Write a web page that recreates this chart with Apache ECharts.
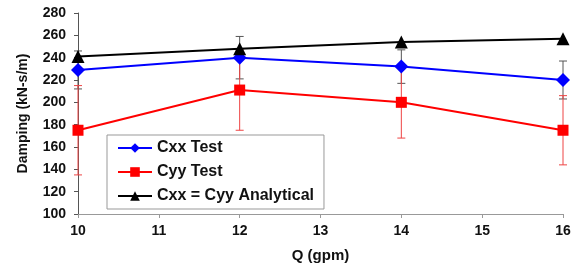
<!DOCTYPE html>
<html>
<head>
<meta charset="utf-8">
<script src="https://cdn.jsdelivr.net/npm/echarts@6/dist/echarts.min.js"></script>
<style>
  html, body { margin: 0; padding: 0; background: #fff; }
  #chart { width: 577px; height: 268px; }
</style>
</head>
<body>
<div id="chart"></div>
<script>
// flow rate, gpm
var flow = [10, 12, 14, 16];
// damping values, kN-s/m
var cxxTest = [229, 240, 232, 220];
var cyyTest = [175, 211, 200, 175];
var analytical = [241, 248, 254, 257];
// +/- error for test series
var cxxErr = [17, 19, 15, 17];
var cyyErr = [40, 36, 32, 31];
var yTicks = [100, 120, 140, 160, 180, 200, 220, 240, 260, 280];

var font = 'Liberation Sans, Arial, sans-serif';

function pairs(ys) {
  return flow.map(function (x, i) { return [x, ys[i]]; });
}
function errRows(ys, es) {
  return flow.map(function (x, i) { return [x, ys[i] - es[i], ys[i] + es[i]]; });
}
function errorBars(color) {
  return function (params, api) {
    var top = api.coord([api.value(0), api.value(2)]);
    var bot = api.coord([api.value(0), api.value(1)]);
    var w = 4;
    var st = { stroke: color, lineWidth: 1 };
    return {
      type: 'group',
      children: [
        { type: 'line', shape: { x1: top[0], y1: top[1], x2: bot[0], y2: bot[1] }, style: st },
        { type: 'line', shape: { x1: top[0] - w, y1: top[1], x2: top[0] + w, y2: top[1] }, style: st },
        { type: 'line', shape: { x1: bot[0] - w, y1: bot[1], x2: bot[0] + w, y2: bot[1] }, style: st }
      ]
    };
  };
}

var chart = echarts.init(document.getElementById('chart'));
chart.setOption({
  animation: false,
  textStyle: { fontFamily: font },
  grid: { left: 78, right: 14, top: 13, bottom: 54 },
  legend: {
    orient: 'vertical',
    left: 107,
    top: 135,
    itemWidth: 34,
    itemHeight: 12,
    itemGap: 8,
    padding: [5, 10, 5, 10],
    borderColor: '#999',
    borderWidth: 1,
    textStyle: { fontFamily: font, fontWeight: 'bold', fontSize: 16, color: '#111' },
    data: ['Cxx Test', 'Cyy Test', 'Cxx = Cyy Analytical']
  },
  xAxis: {
    type: 'value',
    min: 10,
    max: 16,
    interval: 1,
    name: 'Q (gpm)',
    nameLocation: 'middle',
    nameGap: 34,
    nameTextStyle: { fontFamily: font, fontWeight: 'bold', fontSize: 15, color: '#111' },
    axisLine: { lineStyle: { color: '#999' } },
    axisTick: { show: true, length: 4, lineStyle: { color: '#999' } },
    axisLabel: { fontFamily: font, fontWeight: 'bold', fontSize: 14, color: '#111', margin: 10 },
    splitLine: { show: false }
  },
  yAxis: {
    type: 'value',
    min: yTicks[0],
    max: yTicks[yTicks.length - 1],
    interval: 20,
    name: 'Damping (kN-s/m)',
    nameLocation: 'middle',
    nameGap: 48,
    nameTextStyle: { fontFamily: font, fontWeight: 'bold', fontSize: 14, color: '#111' },
    axisLine: { show: true, lineStyle: { color: '#555' } },
    axisTick: { show: true, length: 4, lineStyle: { color: '#555' } },
    axisLabel: { fontFamily: font, fontWeight: 'bold', fontSize: 14, color: '#111', margin: 12 },
    splitLine: { show: false }
  },
  series: [
    {
      name: 'Cxx err',
      type: 'custom',
      renderItem: errorBars('#555'),
      data: errRows(cxxTest, cxxErr),
      z: 1,
      silent: true
    },
    {
      name: 'Cyy err',
      type: 'custom',
      renderItem: errorBars('#e44'),
      data: errRows(cyyTest, cyyErr),
      z: 1,
      silent: true
    },
    {
      name: 'Cxx Test',
      type: 'line',
      data: pairs(cxxTest),
      symbol: 'diamond',
      symbolSize: 14,
      lineStyle: { color: '#0000ff', width: 2 },
      itemStyle: { color: '#0000ff' },
      z: 3
    },
    {
      name: 'Cyy Test',
      type: 'line',
      data: pairs(cyyTest),
      symbol: 'rect',
      symbolSize: 11,
      lineStyle: { color: '#ff0000', width: 2 },
      itemStyle: { color: '#ff0000' },
      z: 3
    },
    {
      name: 'Cxx = Cyy Analytical',
      type: 'line',
      data: pairs(analytical),
      symbol: 'triangle',
      symbolSize: 13,
      lineStyle: { color: '#000', width: 2 },
      itemStyle: { color: '#000' },
      z: 3
    }
  ]
});
</script>
</body>
</html>
